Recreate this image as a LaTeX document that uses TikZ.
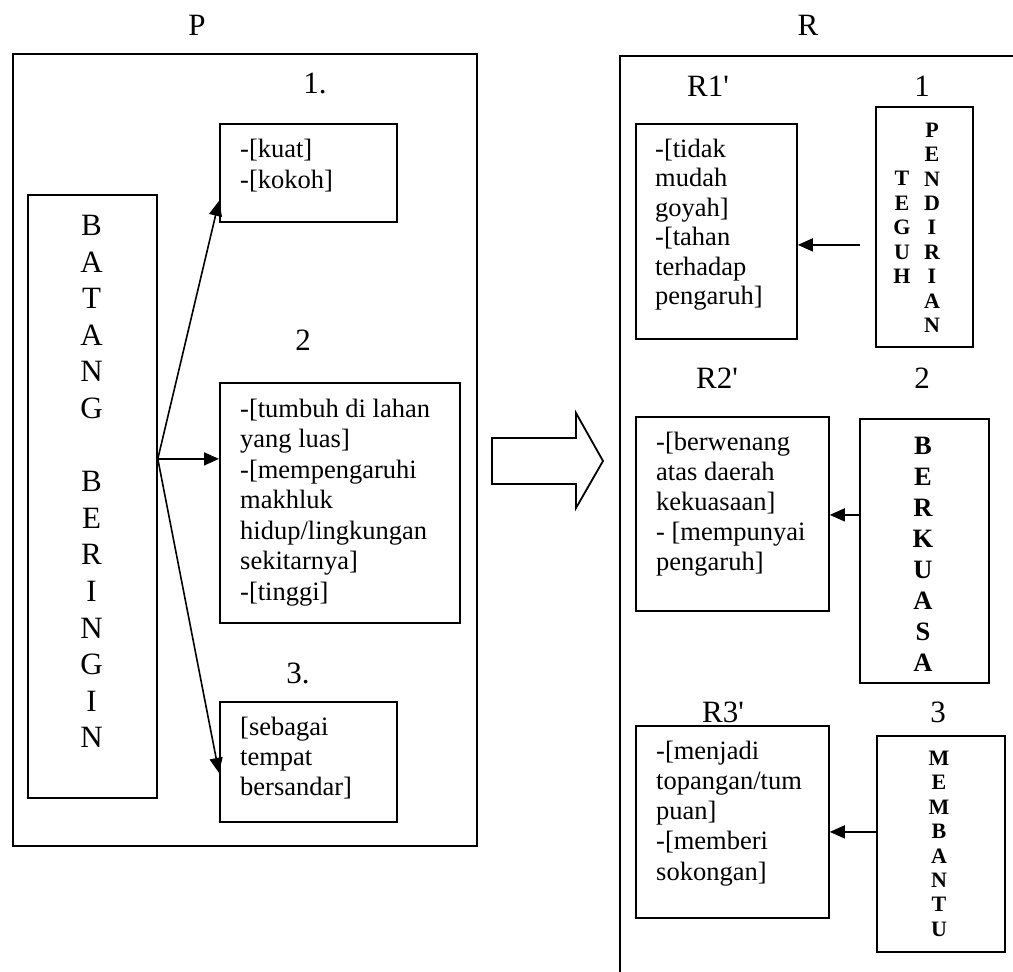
\documentclass[tikz,border=0pt]{standalone}
\usepackage{fontspec}
\setmainfont{Liberation Serif}
\usetikzlibrary{arrows.meta}

% font sizes (1 unit = 1pt)
\newcommand\bodyfont[1]{\fontsize{26.5}{#1}\selectfont}
\newcommand\headfont{\fontsize{31}{36}\selectfont}
\newcommand\stackfont[2]{\fontsize{#1}{#2}\selectfont}

\begin{document}
\begin{tikzpicture}[x=1pt,y=-1pt,
  frame/.style={draw, line width=1.8pt, inner sep=0pt, anchor=north west},
  conn/.style={line width=1.6pt, -{Triangle[length=15pt,width=13pt]}},
  txt/.style={inner sep=0pt, anchor=north west, align=left},
  head/.style={inner sep=0pt, anchor=base, font=\headfont},
  stack/.style={inner sep=0pt, anchor=north, align=center}]

\useasboundingbox (0,0) rectangle (1013,972);
\clip (0,0) rectangle (1013,972);

% ---------- left panel: P ----------
\node[head] (lP) at (197,35.3) {P};
\node[frame, minimum width=464pt, minimum height=792pt] (pbox) at (12,53) {};

\node[frame, minimum width=129pt, minimum height=603pt] (bt) at (27,194) {};
\node[stack, font=\stackfont{31}{36.6}] (btt) at (91.5,209.7)
  {\strut B\\A\\T\\A\\N\\G\\[36.6pt]B\\E\\R\\I\\N\\G\\I\\N};

\node[head] (n1) at (315,93.5) {1.};
\node[frame, minimum width=177pt, minimum height=98pt] (b1) at (219,123) {};
\node[txt, font=\bodyfont{31}] (b1t) at (240,135.3) {\strut-[kuat]\\-[kokoh]};

\node[head] (n2) at (303,350.5) {2};
\node[frame, minimum width=240pt, minimum height=240pt] (b2) at (219,382) {};
\node[txt, font=\bodyfont{30.5}] (b2t) at (240,395.6)
  {\strut-[tumbuh di lahan\\yang luas]\\-[mempengaruhi\\makhluk\\hidup/lingkungan\\sekitarnya]\\-[tinggi]};

\node[head] (n3) at (298,683.5) {3.};
\node[frame, minimum width=177pt, minimum height=120pt] (b3) at (219,701) {};
\node[txt, font=\bodyfont{30}] (b3t) at (240,714)
  {\strut[sebagai\\tempat\\bersandar]};

\coordinate (org) at ([yshift=37.5pt]bt.east);
\draw[conn] (org) -- ([yshift=-28pt]b1.west);
\draw[conn] (org) -- (org -| b2.west);
\draw[conn] (org) -- ([yshift=-11pt]b3.west);

% ---------- transition arrow ----------
\draw[line width=1.8pt, fill=white, line join=miter]
  (492,438) -- (576,438) -- (576,413) -- (603,461) -- (576,508)
  -- (576,484) -- (492,484) -- cycle;

% ---------- right panel: R ----------
\node[head] (lR) at (808,35.3) {R};
\node[frame, minimum width=600pt, minimum height=1000pt] (rbox) at (619,55) {};

% row 1
\node[head] (h1) at (708,96.5) {R1\textquotesingle};
\node[head] (k1) at (922,96.5) {1};
\node[frame, minimum width=161pt, minimum height=215pt] (r1) at (635,123) {};
\node[txt, font=\bodyfont{29.5}] (r1t) at (655,136.3)
  {\strut-[tidak\\mudah\\goyah]\\-[tahan\\terhadap\\pengaruh]};
\node[frame, minimum width=97pt, minimum height=240pt] (tg) at (875,106) {};
\node[stack, font=\stackfont{22}{24.6}\bfseries] (tga) at (902,168.1)
  {\strut T\\E\\G\\U\\H};
\node[stack, font=\stackfont{22}{24.4}\bfseries] (tgb) at (932,120.1)
  {\strut P\\E\\N\\D\\I\\R\\I\\A\\N};
\coordinate (tgin) at ([xshift=-15pt,yshift=-18pt]tg.west);
\draw[conn] (tgin) -- (tgin -| r1.east);

% row 2
\node[head] (h2) at (717,388.5) {R2\textquotesingle};
\node[head] (k2) at (922,388.5) {2};
\node[frame, minimum width=193pt, minimum height=194pt] (r2) at (635,416) {};
\node[txt, font=\bodyfont{30}] (r2t) at (656,429)
  {\strut-[berwenang\\atas daerah\\kekuasaan]\\- [mempunyai\\pengaruh]};
\node[frame, minimum width=129pt, minimum height=264pt] (bk) at (859,418) {};
\node[stack, font=\stackfont{26.5}{31}\bfseries] (bkt) at (923,432.1)
  {\strut B\\E\\R\\K\\U\\A\\S\\A};
\coordinate (bkout) at ([yshift=36pt]bk.west);
\draw[conn] (bkout) -- (bkout -| r2.east);

% row 3
\node[head] (h3) at (723,722.5) {R3\textquotesingle};
\node[head] (k3) at (938,722.5) {3};
\node[frame, minimum width=193pt, minimum height=192pt] (r3) at (635,725) {};
\node[txt, font=\bodyfont{30.2}] (r3t) at (656,737.9)
  {\strut-[menjadi\\topangan/tum\\puan]\\-[memberi\\sokongan]};
\node[frame, minimum width=128pt, minimum height=216pt] (mb) at (876,735) {};
\node[stack, font=\stackfont{22}{24.4}\bfseries] (mbt) at (939,748.2)
  {\strut M\\E\\M\\B\\A\\N\\T\\U};
\coordinate (mbout) at ([yshift=12pt]mb.west);
\draw[conn] (mbout) -- (mbout -| r3.east);

\end{tikzpicture}
\end{document}
